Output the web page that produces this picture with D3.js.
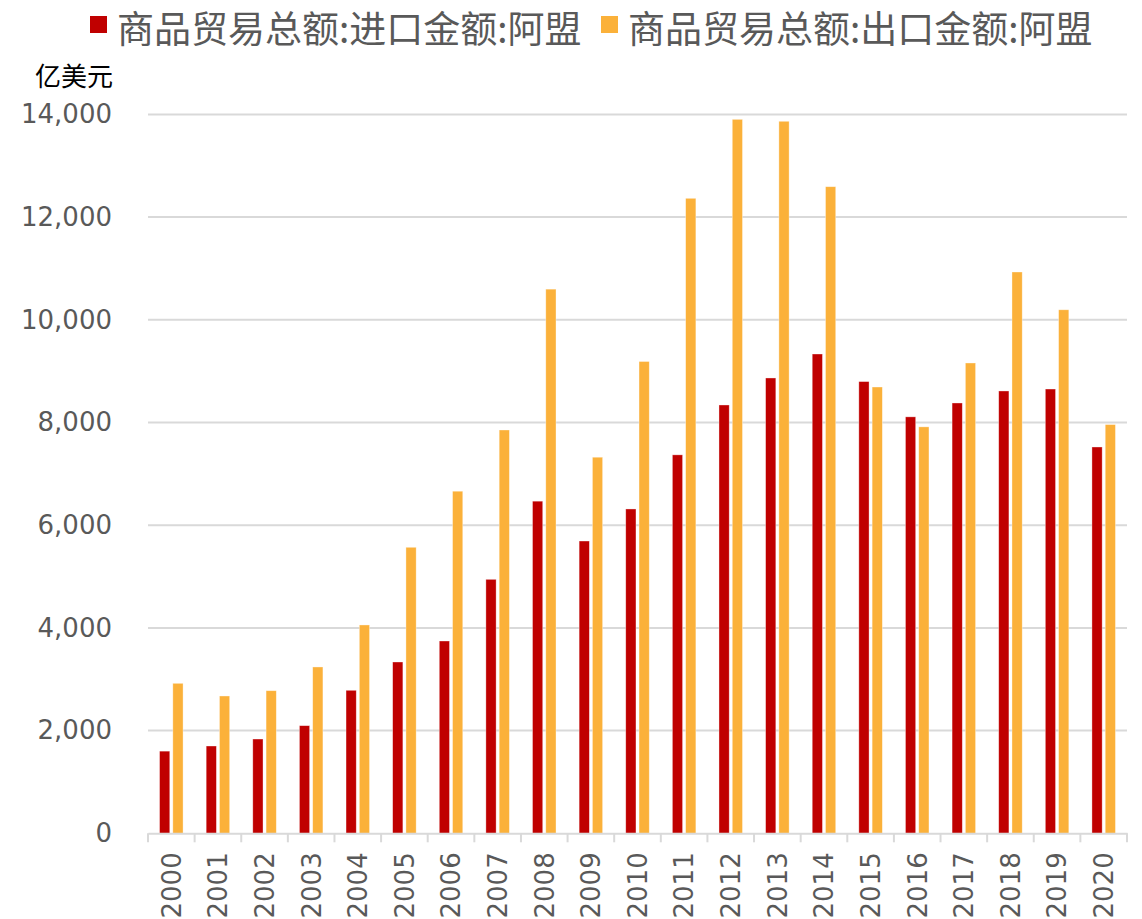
<!DOCTYPE html>
<html>
<head>
<meta charset="utf-8">
<script src="https://cdn.jsdelivr.net/npm/d3@7"></script>
<style>
  html, body { margin: 0; padding: 0; background: #fff; }
  svg { display: block; }
</style>
</head>
<body>
<div id="chart"></div>
<script>
// 数据：商品贸易总额（亿美元）
const years = ['2000', '2001', '2002', '2003', '2004', '2005', '2006', '2007', '2008', '2009',
  '2010', '2011', '2012', '2013', '2014', '2015', '2016', '2017', '2018', '2019', '2020'];
const importValues = [1600, 1700, 1836, 2096, 2785, 3336, 3745, 4946, 6468, 5692,
  6316, 7370, 8341, 8867, 9334, 8797, 8110, 8380, 8614, 8652, 7523];
const exportValues = [2921, 2674, 2777, 3239, 4057, 5570, 6662, 7854, 10597, 7324,
  9188, 12366, 13904, 13866, 12592, 8691, 7915, 9159, 10931, 10195, 7960];
const seriesNames = ['商品贸易总额:进口金额:阿盟', '商品贸易总额:出口金额:阿盟'];
const yTicks = [0, 2000, 4000, 6000, 8000, 10000, 12000, 14000];
const unitLabel = '亿美元';

const W = 1142, H = 919;
const margin = { top: 114.4, right: 15, bottom: 85.7, left: 148 };
const colors = ['#C00000', '#FBB13A'];
const grey = '#595959';
const cjk = '"Microsoft YaHei", "Noto Sans CJK SC", sans-serif';
const num = 'Verdana, "DejaVu Sans", sans-serif';

const svg = d3.select('#chart').append('svg')
  .attr('width', W)
  .attr('height', H);

const x0 = d3.scaleBand()
  .domain(years)
  .range([margin.left, W - margin.right])
  .paddingInner(0)
  .paddingOuter(0);

const x1 = d3.scaleBand()
  .domain([0, 1])
  .range([0, x0.bandwidth()])
  .paddingInner(0.23)
  .paddingOuter(0.87);

const y = d3.scaleLinear()
  .domain([0, 14000])
  .range([H - margin.bottom, margin.top]);

// 网格线
svg.append('g')
  .selectAll('line')
  .data(yTicks.filter(d => d > 0))
  .join('line')
  .attr('x1', margin.left)
  .attr('x2', W - margin.right)
  .attr('y1', d => y(d))
  .attr('y2', d => y(d))
  .attr('stroke', '#d9d9d9')
  .attr('stroke-width', 2);

// Y 轴
const yAxis = svg.append('g')
  .attr('transform', `translate(${margin.left},0)`)
  .call(d3.axisLeft(y).tickValues(yTicks).tickFormat(d3.format(',')).tickSize(0).tickPadding(36));
yAxis.select('.domain').remove();
yAxis.selectAll('text')
  .style('font-family', num)
  .style('font-size', '26px')
  .style('fill', grey);

// 柱子
const rows = years.map((yr, i) => ({ year: yr, values: [importValues[i], exportValues[i]] }));

svg.append('g')
  .selectAll('g')
  .data(rows)
  .join('g')
  .attr('transform', d => `translate(${x0(d.year)},0)`)
  .selectAll('rect')
  .data(d => d.values.map((v, k) => ({ k, v })))
  .join('rect')
  .attr('x', d => x1(d.k))
  .attr('width', x1.bandwidth())
  .attr('y', d => y(d.v))
  .attr('height', d => y(0) - y(d.v))
  .attr('fill', d => colors[d.k])
  .attr('stroke', '#fff')
  .attr('stroke-opacity', 0.5)
  .attr('stroke-width', 0.7);

// X 轴
const xAxis = svg.append('g')
  .attr('transform', `translate(0,${y(0)})`)
  .call(d3.axisBottom(x0).tickSize(0).tickPadding(0));
xAxis.select('.domain')
  .attr('stroke', '#d9d9d9')
  .attr('stroke-width', 2);
xAxis.selectAll('.tick text')
  .attr('transform', 'rotate(-90)')
  .attr('x', -19)
  .attr('y', 0)
  .attr('dy', '0.36em')
  .attr('text-anchor', 'end')
  .style('font-family', num)
  .style('font-size', '26px')
  .style('fill', grey);

// 分隔刻度
svg.append('g')
  .selectAll('line')
  .data(years.concat(['end']))
  .join('line')
  .attr('x1', (d, i) => i < years.length ? x0(d) : W - margin.right)
  .attr('x2', (d, i) => i < years.length ? x0(d) : W - margin.right)
  .attr('y1', y(0))
  .attr('y2', y(0) + 9)
  .attr('stroke', '#d9d9d9')
  .attr('stroke-width', 2);

// 单位
svg.append('text')
  .attr('x', 113)
  .attr('y', 86)
  .attr('text-anchor', 'end')
  .style('font-family', cjk)
  .style('font-size', '26px')
  .style('fill', '#000')
  .text(unitLabel);

// 图例
const legendPos = [90, 601];
const legend = svg.append('g')
  .selectAll('g')
  .data(seriesNames)
  .join('g')
  .attr('transform', (d, i) => `translate(${legendPos[i]},0)`);

legend.append('rect')
  .attr('x', 0)
  .attr('y', 16)
  .attr('width', 17)
  .attr('height', 17)
  .attr('fill', (d, i) => colors[i]);

legend.append('text')
  .attr('x', 27)
  .attr('y', 43)
  .style('font-family', cjk)
  .style('font-size', '37px')
  .style('fill', grey)
  .text(d => d);
</script>
</body>
</html>
